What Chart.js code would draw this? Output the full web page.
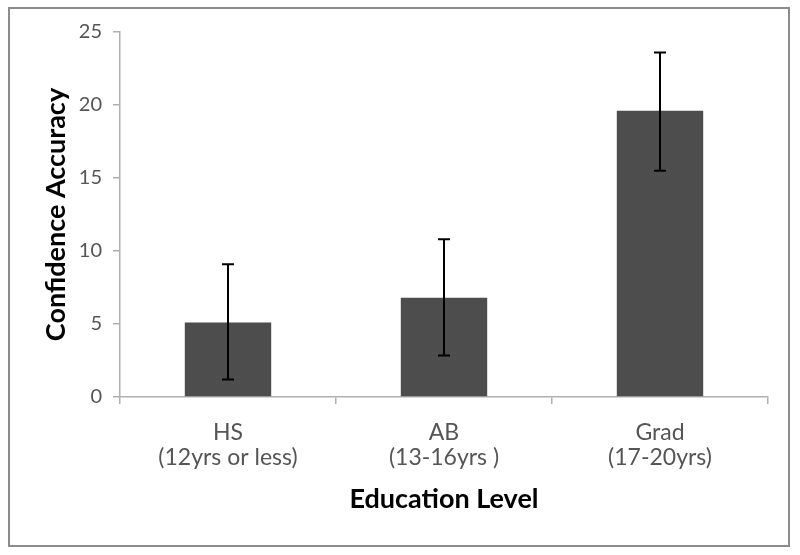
<!DOCTYPE html>
<html>
<head>
<meta charset="utf-8">
<script src="https://cdn.jsdelivr.net/npm/chart.js@4.4.0/dist/chart.umd.min.js"></script>
<style>
  html, body { margin: 0; padding: 0; background: #fff; }
  #wrap { position: relative; width: 800px; height: 555px; }
</style>
</head>
<body>
<div id="wrap"><canvas id="chart-confidence" width="800" height="555"></canvas></div>
<script>
var categories = [['HS', '(12yrs or less)'], ['AB', '(13-16yrs )'], ['Grad', '(17-20yrs)']];
var meanValues = [5.1, 6.8, 19.6];
var errLow = [1.2, 2.85, 15.5];
var errHigh = [9.1, 10.8, 23.6];
var yTicks = [0, 5, 10, 15, 20, 25];

var fontFamily = 'Lato, "Open Sans", sans-serif';

// outer frame round the picture
var framePlugin = {
	id: 'frame',
	beforeDraw: function(chart) {
		var ctx = chart.ctx;
		ctx.save();
		ctx.strokeStyle = '#8c8c8c';
		ctx.lineWidth = 2;
		ctx.strokeRect(9, 8, 780, 538);
		ctx.restore();
	}
};

// error bars, drawn with the y scale
var errorBarPlugin = {
	id: 'errorBars',
	afterDatasetsDraw: function(chart) {
		var ctx = chart.ctx,
			yScale = chart.scales.y,
			meta = chart.getDatasetMeta(0);
		ctx.save();
		ctx.strokeStyle = '#000';
		ctx.lineWidth = 2;
		meta.data.forEach(function(bar, i) {
			var x = bar.x,
				yLo = yScale.getPixelForValue(errLow[i]),
				yHi = yScale.getPixelForValue(errHigh[i]);
			ctx.beginPath();
			ctx.moveTo(x, yLo);
			ctx.lineTo(x, yHi);
			ctx.moveTo(x - 6, yLo);
			ctx.lineTo(x + 6, yLo);
			ctx.moveTo(x - 6, yHi);
			ctx.lineTo(x + 6, yHi);
			ctx.stroke();
		});
		ctx.restore();
	}
};

var canvas = document.getElementById('chart-confidence');
var chart = new Chart(canvas, {
	type: 'bar',
	data: {
		labels: categories,
		datasets: [{
			data: meanValues,
			backgroundColor: '#4d4d4d',
			borderWidth: 0,
			categoryPercentage: 1,
			barPercentage: 0.4
		}]
	},
	options: {
		responsive: false,
		animation: false,
		layout: { padding: { top: 32, right: 32, bottom: 0, left: 0 } },
		plugins: {
			legend: { display: false },
			tooltip: { enabled: false }
		},
		scales: {
			x: {
				offset: true,
				grid: { display: true, offset: true, drawOnChartArea: false, tickLength: 7, color: '#b0b0b0', lineWidth: 1.5 },
				border: { color: '#b0b0b0', width: 1.5 },
				ticks: { color: '#555', padding: 16, font: { family: fontFamily, size: 23, lineHeight: 1.1 } },
				title: { display: true, text: 'Education Level', color: '#000', font: { family: fontFamily, size: 27, weight: 'bold', lineHeight: 1.2 }, padding: { top: 4, bottom: 40 } },
				afterFit: function(scale) { scale.height = 158; }
			},
			y: {
				min: 0,
				max: 25,
				afterBuildTicks: function(scale) {
					scale.ticks = yTicks.map(function(v) { return { value: v }; });
				},
				grid: { display: true, drawOnChartArea: false, tickLength: 7, color: '#b0b0b0', lineWidth: 1.5 },
				border: { color: '#b0b0b0', width: 1.5 },
				ticks: { color: '#555', padding: 11, font: { family: fontFamily, size: 20 } },
				title: { display: true, text: 'Confidence Accuracy', color: '#000', font: { family: fontFamily, size: 27, weight: 'bold', lineHeight: 1.2 }, padding: { top: 40 } },
				afterFit: function(scale) { scale.width = 120; }
			}
		}
	},
	plugins: [framePlugin, errorBarPlugin]
});
</script>
</body>
</html>
